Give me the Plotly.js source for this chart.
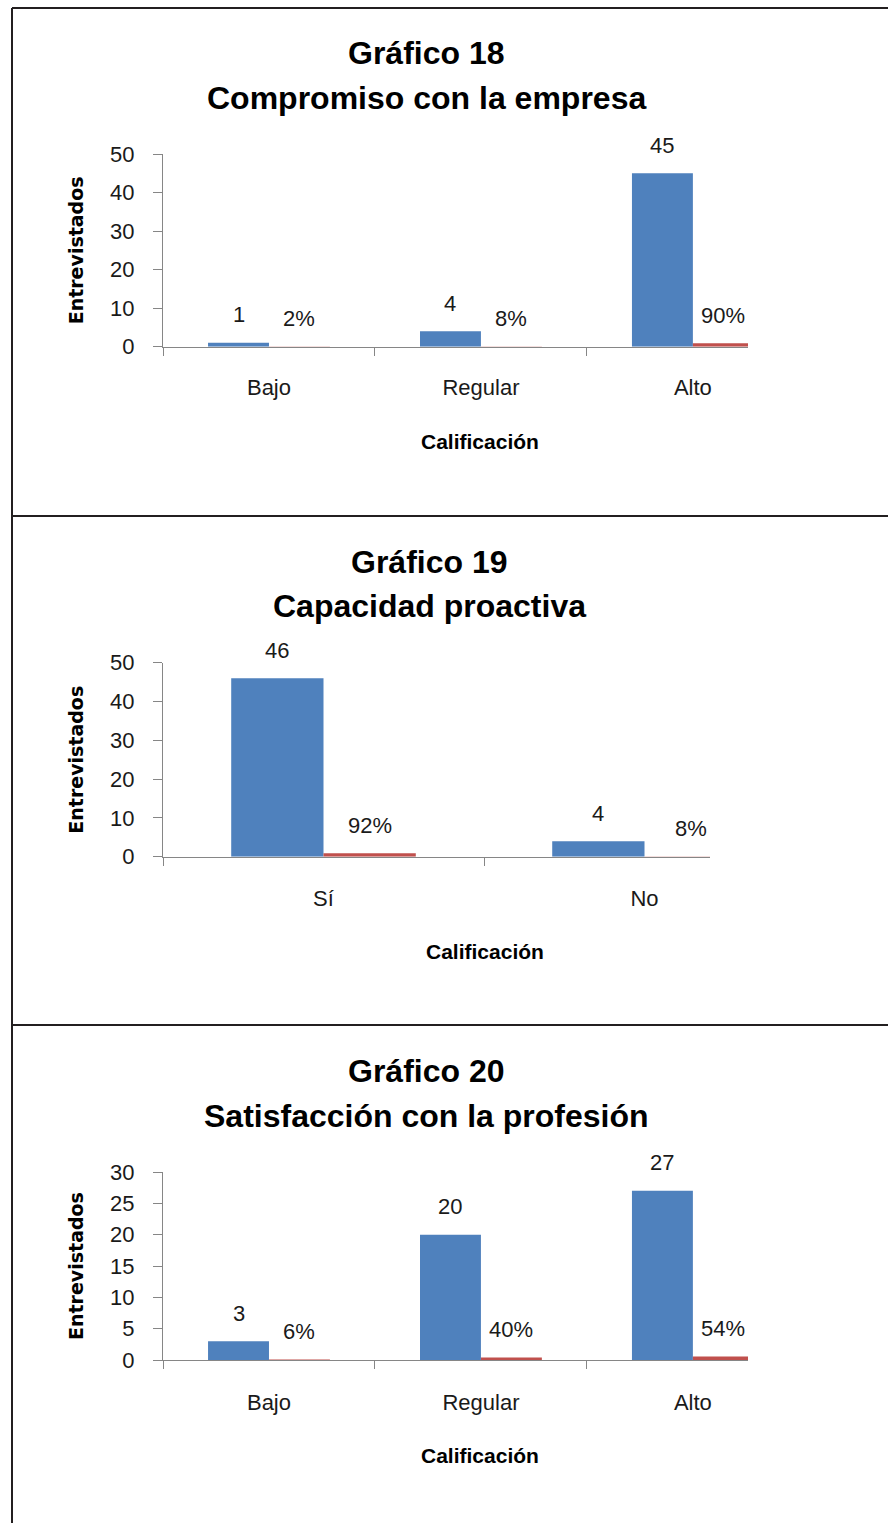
<!DOCTYPE html>
<html>
<head>
<meta charset="utf-8">
<script src="https://cdn.plot.ly/plotly-3.0.1.min.js"></script>
<style>
html,body{margin:0;padding:0;background:#fff;}
#chart{width:888px;height:1523px;}
</style>
</head>
<body>
<div id="chart"></div>
<script>
// ---- Data ----
const cats18 = ['Bajo', 'Regular', 'Alto'];
const counts18 = [1, 4, 45];
const pct18 = [0.02, 0.08, 0.90];

const cats19 = ['Sí', 'No'];
const counts19 = [46, 4];
const pct19 = [0.92, 0.08];

const cats20 = ['Bajo', 'Regular', 'Alto'];
const counts20 = [3, 20, 27];
const pct20 = [0.06, 0.40, 0.54];

const titles = [
  ['Gráfico 18', 'Compromiso con la empresa'],
  ['Gráfico 19', 'Capacidad proactiva'],
  ['Gráfico 20', 'Satisfacción con la profesión']
];
const yTitle = 'Entrevistados';
const xTitle = 'Calificación';

// ---- Geometry helpers (pixel -> paper) ----
const W = 888, H = 1523;
const px = v => v / W;
const py = v => 1 - v / H;

const BLUE = '#4F81BD', RED = '#C0504D';
const AX = '#868686';
const TXT = '#1a1a1a';
const FONT = 'Liberation Sans, Arial, sans-serif';
const BARGAP = 0.425;
const half = (1 - BARGAP) / 4;

const panels = [
  {cats: cats18, counts: counts18, pct: pct18, xd: [163, 748], xr: [-0.5, 2.26], y0: 346.7, ytop: 154, yr: [0, 50], dt: 10,
   t1: 53, t2: 98, tx: 426, axT: 441, axX: 480, so: 21},
  {cats: cats19, counts: counts19, pct: pct19, xd: [163, 710], xr: [-0.5, 1.204], y0: 856.7, ytop: 662.7, yr: [0, 50], dt: 10,
   t1: 562, t2: 606, tx: 429, axT: 951, axX: 485, so: 22},
  {cats: cats20, counts: counts20, pct: pct20, xd: [163, 748], xr: [-0.5, 2.26], y0: 1360, ytop: 1172, yr: [0, 30], dt: 5,
   t1: 1071, t2: 1116, tx: 426, axT: 1455, axX: 480, so: 23}
];

const data = [];
const annotations = [];
const layout = {
  width: W, height: H,
  margin: {l: 0, r: 0, t: 0, b: 0},
  paper_bgcolor: '#fff', plot_bgcolor: 'rgba(0,0,0,0)',
  showlegend: false,
  barmode: 'group', bargap: BARGAP, bargroupgap: 0,
  font: {family: FONT, color: TXT},
  shapes: [
    {type: 'line', xref: 'paper', yref: 'paper', x0: px(12), x1: px(900), y0: py(8), y1: py(8), line: {color: '#231f20', width: 2}},
    {type: 'line', xref: 'paper', yref: 'paper', x0: px(12), x1: px(12), y0: py(8), y1: py(1530), line: {color: '#231f20', width: 2}},
    {type: 'line', xref: 'paper', yref: 'paper', x0: px(12), x1: px(900), y0: py(516), y1: py(516), line: {color: '#231f20', width: 2}},
    {type: 'line', xref: 'paper', yref: 'paper', x0: px(12), x1: px(900), y0: py(1025), y1: py(1025), line: {color: '#231f20', width: 2}}
  ],
  annotations: annotations
};

panels.forEach((p, i) => {
  const n = i === 0 ? '' : String(i + 1);
  const xa = 'x' + n, ya = 'y' + n;
  data.push({type: 'bar', x: p.cats, y: p.counts, xaxis: xa, yaxis: ya, marker: {color: BLUE}, hoverinfo: 'none'});
  data.push({type: 'bar', x: p.cats, y: p.pct, xaxis: xa, yaxis: ya, marker: {color: RED}, hoverinfo: 'none'});

  layout['xaxis' + n] = {
    domain: [px(p.xd[0]), px(p.xd[1])], anchor: ya, type: 'category',
    range: p.xr, showline: true, linecolor: AX, linewidth: 1,
    ticks: 'outside', tickson: 'boundaries', ticklen: 8, tickcolor: AX,
    showgrid: false, zeroline: false, fixedrange: true,
    tickfont: {family: FONT, size: 22, color: TXT}, ticklabelstandoff: p.so
  };
  layout['yaxis' + n] = {
    domain: [py(p.y0), py(p.ytop)], anchor: xa,
    range: p.yr, dtick: p.dt, showline: true, linecolor: AX, linewidth: 1,
    ticks: 'outside', ticklen: 9, tickcolor: AX, showgrid: false, zeroline: false,
    tickfont: {family: FONT, size: 22, color: TXT}, ticklabelstandoff: 14, fixedrange: true
  };

  // titles
  annotations.push({xref: 'paper', yref: 'paper', x: px(p.tx), y: py(p.t1), text: '<b>' + titles[i][0] + '</b>',
    showarrow: false, xanchor: 'center', yanchor: 'middle', font: {family: FONT, size: 32, color: '#000'}});
  annotations.push({xref: 'paper', yref: 'paper', x: px(p.tx), y: py(p.t2), text: '<b>' + titles[i][1] + '</b>',
    showarrow: false, xanchor: 'center', yanchor: 'middle', font: {family: FONT, size: 32, color: '#000'}});
  // axis titles
  annotations.push({xref: 'paper', yref: 'paper', x: px(p.axX), y: py(p.axT), text: '<b>' + xTitle + '</b>',
    showarrow: false, xanchor: 'center', yanchor: 'middle', font: {family: FONT, size: 21, color: '#000'}});
  annotations.push({xref: 'paper', yref: 'paper', x: px(76), y: py((p.y0 + p.ytop) / 2), text: '<b>' + yTitle + '</b>',
    showarrow: false, textangle: -90, xanchor: 'center', yanchor: 'middle', font: {family: 'DejaVu Sans, Verdana, sans-serif', size: 19, color: '#000'}});

  // data labels
  p.cats.forEach((c, k) => {
    annotations.push({xref: xa, yref: ya, x: k - half, y: p.counts[k], text: String(p.counts[k]),
      showarrow: false, xanchor: 'center', yanchor: 'middle', yshift: 28, font: {family: FONT, size: 22, color: TXT}});
    annotations.push({xref: xa, yref: ya, x: k + half, y: p.pct[k], text: Math.round(p.pct[k] * 100) + '%',
      showarrow: false, xanchor: 'center', yanchor: 'middle', yshift: 28, font: {family: FONT, size: 22, color: TXT}});
  });
});

Plotly.newPlot('chart', data, layout, {staticPlot: true, displayModeBar: false});
</script>
</body>
</html>
